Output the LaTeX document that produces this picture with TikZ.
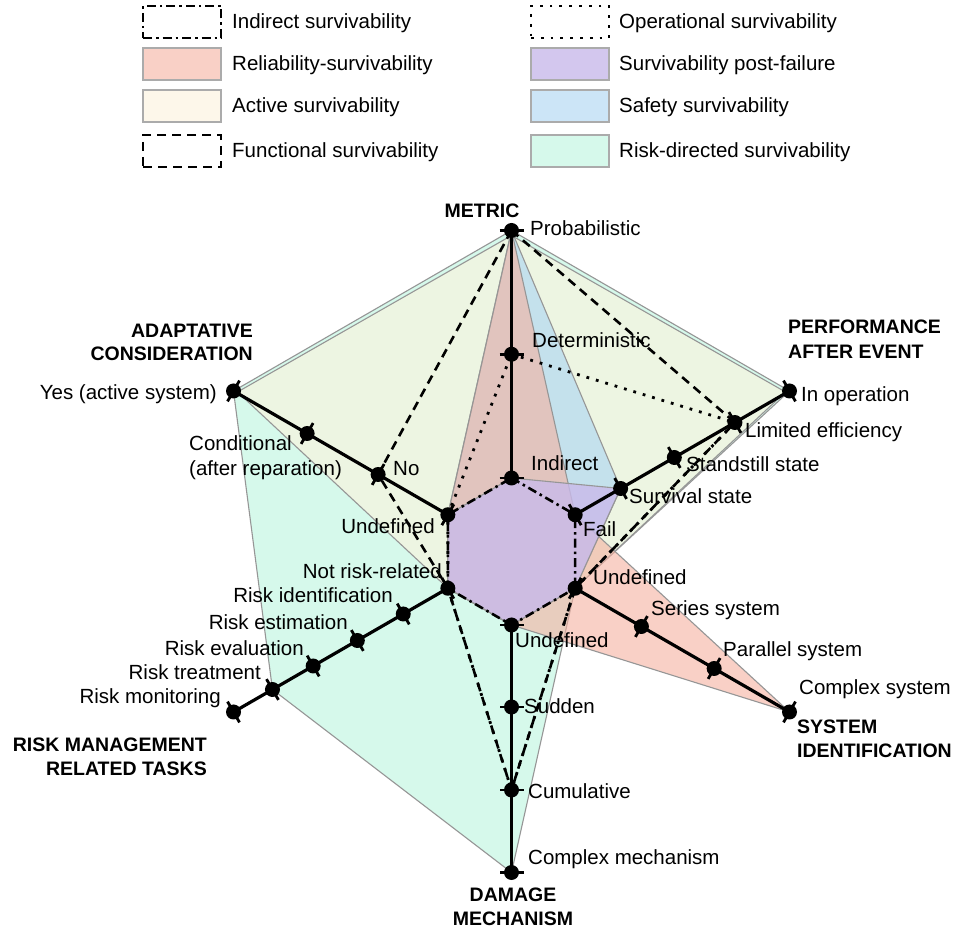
\documentclass[tikz,border=0pt]{standalone}
\usepackage{fontspec}
\setmainfont{Liberation Sans}
\usetikzlibrary{calc}

% pure colours of the survivability regions
\definecolor{mintc}{RGB}{187,245,223}
\definecolor{creamc}{RGB}{253,243,220}
\definecolor{bluec}{RGB}{170,213,243}
\definecolor{pinkc}{RGB}{245,177,160}
\definecolor{lavc}{RGB}{201,186,234}
\definecolor{edgegray}{RGB}{150,150,150}

\begin{document}
\begin{tikzpicture}[x=1pt,y=1pt,
  region/.style={fill=#1, fill opacity=0.6, draw=edgegray, line width=1.1pt, line join=round},
  lavregion/.style={region=lavc, fill opacity=0.8},
  legendfill/.style={fill=#1, fill opacity=0.6, draw=edgegray!80, line width=2.5pt,
    minimum width=78pt, minimum height=32pt, inner sep=0pt},
  legendline/.style={draw=black, minimum width=78pt, minimum height=32pt, inner sep=0pt},
  axisline/.style={line width=3.2pt, black},
  tickmark/.style={line width=2.8pt, black},
  indirectline/.style={line width=2.6pt, dash pattern=on 9pt off 4pt on 2.5pt off 4pt},
  functionalline/.style={line width=2.6pt, dash pattern=on 9pt off 6pt},
  operationalline/.style={line width=2.8pt, dash pattern=on 2.8pt off 7pt},
  lbl/.style={font=\fontsize{20.5}{24}\selectfont, inner sep=0pt},
  ttl/.style={font=\fontsize{19.5}{24}\selectfont\bfseries, inner sep=0pt},
]

\fill[white] (0,0) rectangle (954,930);
\useasboundingbox (0,0) rectangle (954,930);

% ---------- axis points ----------
\coordinate (C) at (511.5,378.5);
\foreach \ang/\nm/\radii in {90/m/{73.5,197.25,321},
                             30/p/{73.5,126,188,258,321},
                             -30/s/{73.5,150,234,321},
                             -90/d/{73.5,155.5,238.5,321},
                             210/r/{73.5,125,178,229,276,321},
                             150/a/{73.5,154,236,321}}{
  \foreach \rad [count=\k] in \radii {
    \coordinate (\nm\k) at ($(C)+(\ang:\rad)$);
  }
}

% ---------- filled regions ----------
\draw[region=mintc] (m3) -- (p5) -- (s1) -- (d4) -- (r5) -- (a4) -- cycle;
\draw[region=creamc] ($(m3)+(0,-5)$) -- ($(p5)+(-4,-1)$) -- (s1) -- (d1) -- (r1)
      -- ($(a4)+(4,-1)$) -- cycle;
\draw[region=bluec] (m3) -- (p2) -- (s1) -- (d1) -- (r1) -- (a1) -- cycle;
\draw[region=pinkc] (m3) -- (p1) -- (s4) -- (d1) -- (r1) -- (a1) -- cycle;
\draw[lavregion] (m1) -- (p2) -- (s1) -- (d1) -- (r1) -- (a1) -- cycle;

% ---------- outlined profiles ----------
\draw[indirectline] (m1) -- (p1) -- (s1) -- (d1) -- (r1) -- (a1) -- cycle;
\draw[functionalline] (m3) -- (p4) -- (s1) -- (d3) -- (r1) -- (a2) -- cycle;
\draw[operationalline] (m2) -- (p4) -- (s1) -- (d3) -- (r1) -- (a1) -- cycle;

% ---------- axes, ticks and level markers ----------
\foreach \nm/\n in {m/3,p/5,s/4,d/4,r/6,a/4}
  \draw[axisline] (\nm1) -- (\nm\n);
\foreach \ang/\nm/\n in {90/m/3,30/p/5,-30/s/4,-90/d/4,210/r/6,150/a/4}{
  \foreach \k in {1,...,\n}{
    \draw[tickmark] ($(\nm\k)+(\ang+90:12)$) -- ($(\nm\k)+(\ang-90:12)$);
    \fill (\nm\k) circle (7.5);
  }
}

% ---------- axis labels ----------
\node[ttl, anchor=base] (tMetric) at (482,712) {METRIC};
\node[lbl, anchor=base west] (lProb) at (530,694) {Probabilistic};
\node[lbl, anchor=base west] (lDet) at (532,582) {Deterministic};
\node[lbl, anchor=base west] (lInd) at (531,459) {Indirect};

\node[ttl, anchor=base west] (tPerfA) at (788,596) {PERFORMANCE};
\node[ttl, anchor=base west] (tPerfB) at (788,571) {AFTER EVENT};
\node[lbl, anchor=base west] (lInOp) at (801,528) {In operation};
\node[lbl, anchor=base west] (lLim) at (745,492) {Limited efficiency};
\node[lbl, anchor=base west] (lStand) at (686,458) {Standstill state};
\node[lbl, anchor=base west] (lSurv) at (629,426) {Survival state};
\node[lbl, anchor=base west] (lFail) at (583,393) {Fail};

\node[lbl, anchor=base west] (lSysU) at (593,345) {Undefined};
\node[lbl, anchor=base west] (lSeries) at (651,314) {Series system};
\node[lbl, anchor=base west] (lPar) at (723,273) {Parallel system};
\node[lbl, anchor=base west] (lCpx) at (799,235) {Complex system};
\node[ttl, anchor=base west] (tSysA) at (797,196) {SYSTEM};
\node[ttl, anchor=base west] (tSysB) at (797,172) {IDENTIFICATION};

\node[lbl, anchor=base west] (lDmgU) at (515,282) {Undefined};
\node[lbl, anchor=base west] (lSud) at (524,216) {Sudden};
\node[lbl, anchor=base west] (lCum) at (528,131) {Cumulative};
\node[lbl, anchor=base west] (lMech) at (528,65) {Complex mechanism};
\node[ttl, anchor=base] (tDmgA) at (513,28) {DAMAGE};
\node[ttl, anchor=base] (tDmgB) at (513,5) {MECHANISM};

\node[lbl, anchor=base east] (lNotRisk) at (442,351) {Not risk-related};
\node[lbl, anchor=base east] (lRid) at (393,327) {Risk identification};
\node[lbl, anchor=base east] (lRes) at (348,300) {Risk estimation};
\node[lbl, anchor=base east] (lRev) at (304,274) {Risk evaluation};
\node[lbl, anchor=base east] (lRtr) at (261,250) {Risk treatment};
\node[lbl, anchor=base east] (lRmo) at (221,226) {Risk monitoring};
\node[ttl, anchor=base east] (tRiskA) at (207,178) {RISK MANAGEMENT};
\node[ttl, anchor=base east] (tRiskB) at (207,154) {RELATED TASKS};

\node[ttl, anchor=base east] (tAdA) at (253,592) {ADAPTATIVE};
\node[ttl, anchor=base east] (tAdB) at (253,569) {CONSIDERATION};
\node[lbl, anchor=base east] (lYes) at (217,530) {Yes (active system)};
\node[lbl, anchor=base west] (lCondA) at (189,479) {Conditional};
\node[lbl, anchor=base west] (lCondB) at (189,454) {(after reparation)};
\node[lbl, anchor=base west] (lNo) at (393,454) {No};
\node[lbl, anchor=base east] (lAdU) at (435,396) {Undefined};

% ---------- legend ----------
\node[legendline, indirectline] (kInd) at (182,908) {};
\node[legendfill=pinkc] (kRel) at (182,866) {};
\node[legendfill=creamc] (kAct) at (182,824) {};
\node[legendline, functionalline] (kFun) at (182,779) {};
\node[legendline, operationalline] (kOpe) at (570,908) {};
\node[legendfill=lavc, fill opacity=0.8] (kPost) at (570,866) {};
\node[legendfill=bluec] (kSaf) at (570,824) {};
\node[legendfill=mintc] (kRisk) at (570,779) {};

\node[lbl, anchor=base west] (gInd) at (232,901) {Indirect survivability};
\node[lbl, anchor=base west] (gRel) at (232,859) {Reliability-survivability};
\node[lbl, anchor=base west] (gAct) at (232,817) {Active survivability};
\node[lbl, anchor=base west] (gFun) at (232,772) {Functional survivability};
\node[lbl, anchor=base west] (gOpe) at (619,901) {Operational survivability};
\node[lbl, anchor=base west] (gPost) at (619,859) {Survivability post-failure};
\node[lbl, anchor=base west] (gSaf) at (619,817) {Safety survivability};
\node[lbl, anchor=base west] (gRisk) at (619,772) {Risk-directed survivability};

\end{tikzpicture}
\end{document}
